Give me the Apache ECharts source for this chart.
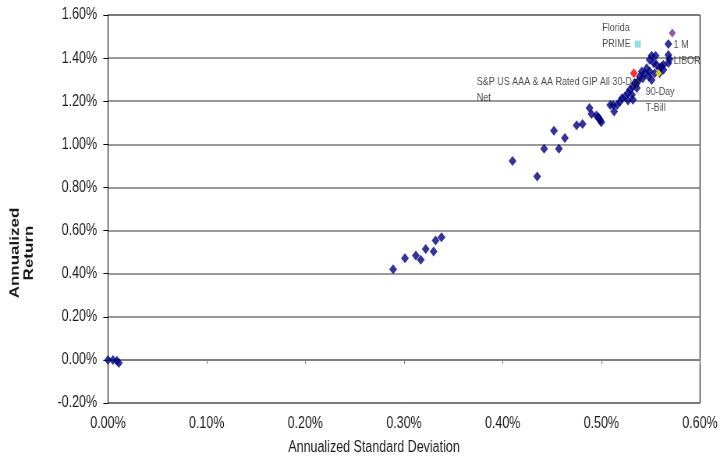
<!DOCTYPE html>
<html><head><meta charset="utf-8">
<script src="https://cdn.jsdelivr.net/npm/echarts@6/dist/echarts.min.js"></script>
<style>html,body{margin:0;padding:0;background:#fff;overflow:hidden;width:720px;height:458px}
#c{width:923px;height:458px;transform:scaleX(0.78007);transform-origin:0 0}</style>
</head><body><div id="c"></div>
<script>
// values in percent: [annualized std dev, annualized return]
const poolPoints = [
  [0.000,0.000],[0.005,0.000],[0.009,-0.004],[0.011,-0.014],
  [0.289,0.421],[0.301,0.472],[0.312,0.484],[0.317,0.464],[0.322,0.515],[0.330,0.503],[0.332,0.554],[0.338,0.569],
  [0.410,0.923],[0.435,0.851],[0.442,0.979],[0.452,1.063],[0.457,0.979],[0.463,1.029],
  [0.475,1.089],[0.481,1.094],[0.488,1.169],[0.490,1.141],[0.495,1.134],[0.497,1.126],[0.498,1.118],[0.499,1.110],[0.500,1.103],
  [0.509,1.183],[0.512,1.183],[0.513,1.152],[0.516,1.183],[0.519,1.199],[0.521,1.214],[0.524,1.222],[0.527,1.238],[0.527,1.203],
  [0.529,1.253],[0.531,1.230],[0.532,1.207],[0.532,1.268],[0.534,1.284],[0.536,1.261],[0.537,1.292],[0.539,1.315],[0.541,1.338],
  [0.542,1.307],[0.544,1.330],[0.546,1.353],[0.548,1.315],[0.549,1.338],[0.549,1.392],[0.551,1.299],[0.551,1.411],[0.553,1.377],
  [0.554,1.330],[0.555,1.411],[0.556,1.369],[0.559,1.330],[0.559,1.353],[0.563,1.346],[0.563,1.369],[0.568,1.377],[0.568,1.415],
  [0.568,1.466],[0.569,1.395],[0.561,1.361]
];
const floridaPrime = [[0.537,1.465]];
const libor1M = [[0.572,1.517]];
const spGIP = [[0.533,1.330]];
const tBill90 = [[0.558,1.330]];
const yTicks = [-0.2,0,0.2,0.4,0.6,0.8,1.0,1.2,1.4,1.6];
const xTicks = [0,0.1,0.2,0.3,0.4,0.5,0.6];

const S = 0.78007; // horizontal squeeze of the whole drawing (narrow lettering as in the reference)
const FONT = '"Liberation Sans",Arial,sans-serif';
const chart = echarts.init(document.getElementById('c'), null, {renderer:'canvas', width:923, height:458});
const pct = v => v.toFixed(2) + '%';
const lbl = (text, pos) => ({show:true, formatter:text, position:pos, color:'#1a1a1a',
  fontFamily:FONT, fontSize:11.5, lineHeight:16, align:'left', verticalAlign:'top'});
chart.setOption({
  animation:false,
  grid:{left:108/S, right:18/S, top:15, bottom:55, show:true, borderColor:'#000', borderWidth:1},
  xAxis:{type:'value', min:xTicks[0], max:xTicks[xTicks.length-1], interval:0.1,
    axisLine:{onZero:true, lineStyle:{color:'#777', width:1.5}},
    axisTick:{show:true, inside:false, length:4, lineStyle:{color:'#777'}},
    axisLabel:{formatter:pct, color:'#1a1a1a', fontFamily:FONT, fontSize:16, margin:13},
    splitLine:{show:false}},
  yAxis:{type:'value', min:yTicks[0], max:yTicks[yTicks.length-1], interval:0.2,
    axisLine:{show:true, onZero:false, lineStyle:{color:'#000', width:1}},
    axisTick:{show:true, length:6, lineStyle:{color:'#000'}},
    axisLabel:{formatter:pct, color:'#1a1a1a', fontFamily:FONT, fontSize:16, margin:14},
    splitLine:{show:true, lineStyle:{color:'#777', width:1.5}}},
  graphic:[
    {type:'text', x:374/S, y:448, style:{text:'Annualized Standard Deviation', fill:'#1a1a1a',
      font:'16px ' + FONT, align:'center', verticalAlign:'middle'}},
    {type:'text', x:22/S, y:253, rotation:Math.PI/2, style:{text:'Annualized\nReturn', fill:'#1a1a1a',
      font:'bold 17px ' + FONT, align:'center', verticalAlign:'middle', lineHeight:18}}
  ],
  series:[
    {type:'scatter', data:poolPoints, symbol:'diamond', symbolSize:[10,10], itemStyle:{color:'#00007F'}},
    {type:'scatter', data:floridaPrime, symbol:'rect', symbolSize:[8,7], itemStyle:{color:'#7FD6D6'},
      label:lbl('Florida\nPRIME',[-41.6,-21])},
    {type:'scatter', data:libor1M, symbol:'diamond', symbolSize:[9,9], itemStyle:{color:'#7030A0'},
      label:lbl('1 M\nLIBOR',[6.2,8])},
    {type:'scatter', data:spGIP, symbol:'diamond', symbolSize:[10,10], itemStyle:{color:'#FF0000'},
      label:lbl('S&P US AAA & AA Rated GIP All 30-Day\nNet',[-196.4,6])},
    {type:'scatter', data:tBill90, symbol:'diamond', symbolSize:[8,8], itemStyle:{color:'#FFFF00'},
      label:lbl('90-Day\nT-Bill',[-12.4,15])}
  ]
});
</script></body></html>
